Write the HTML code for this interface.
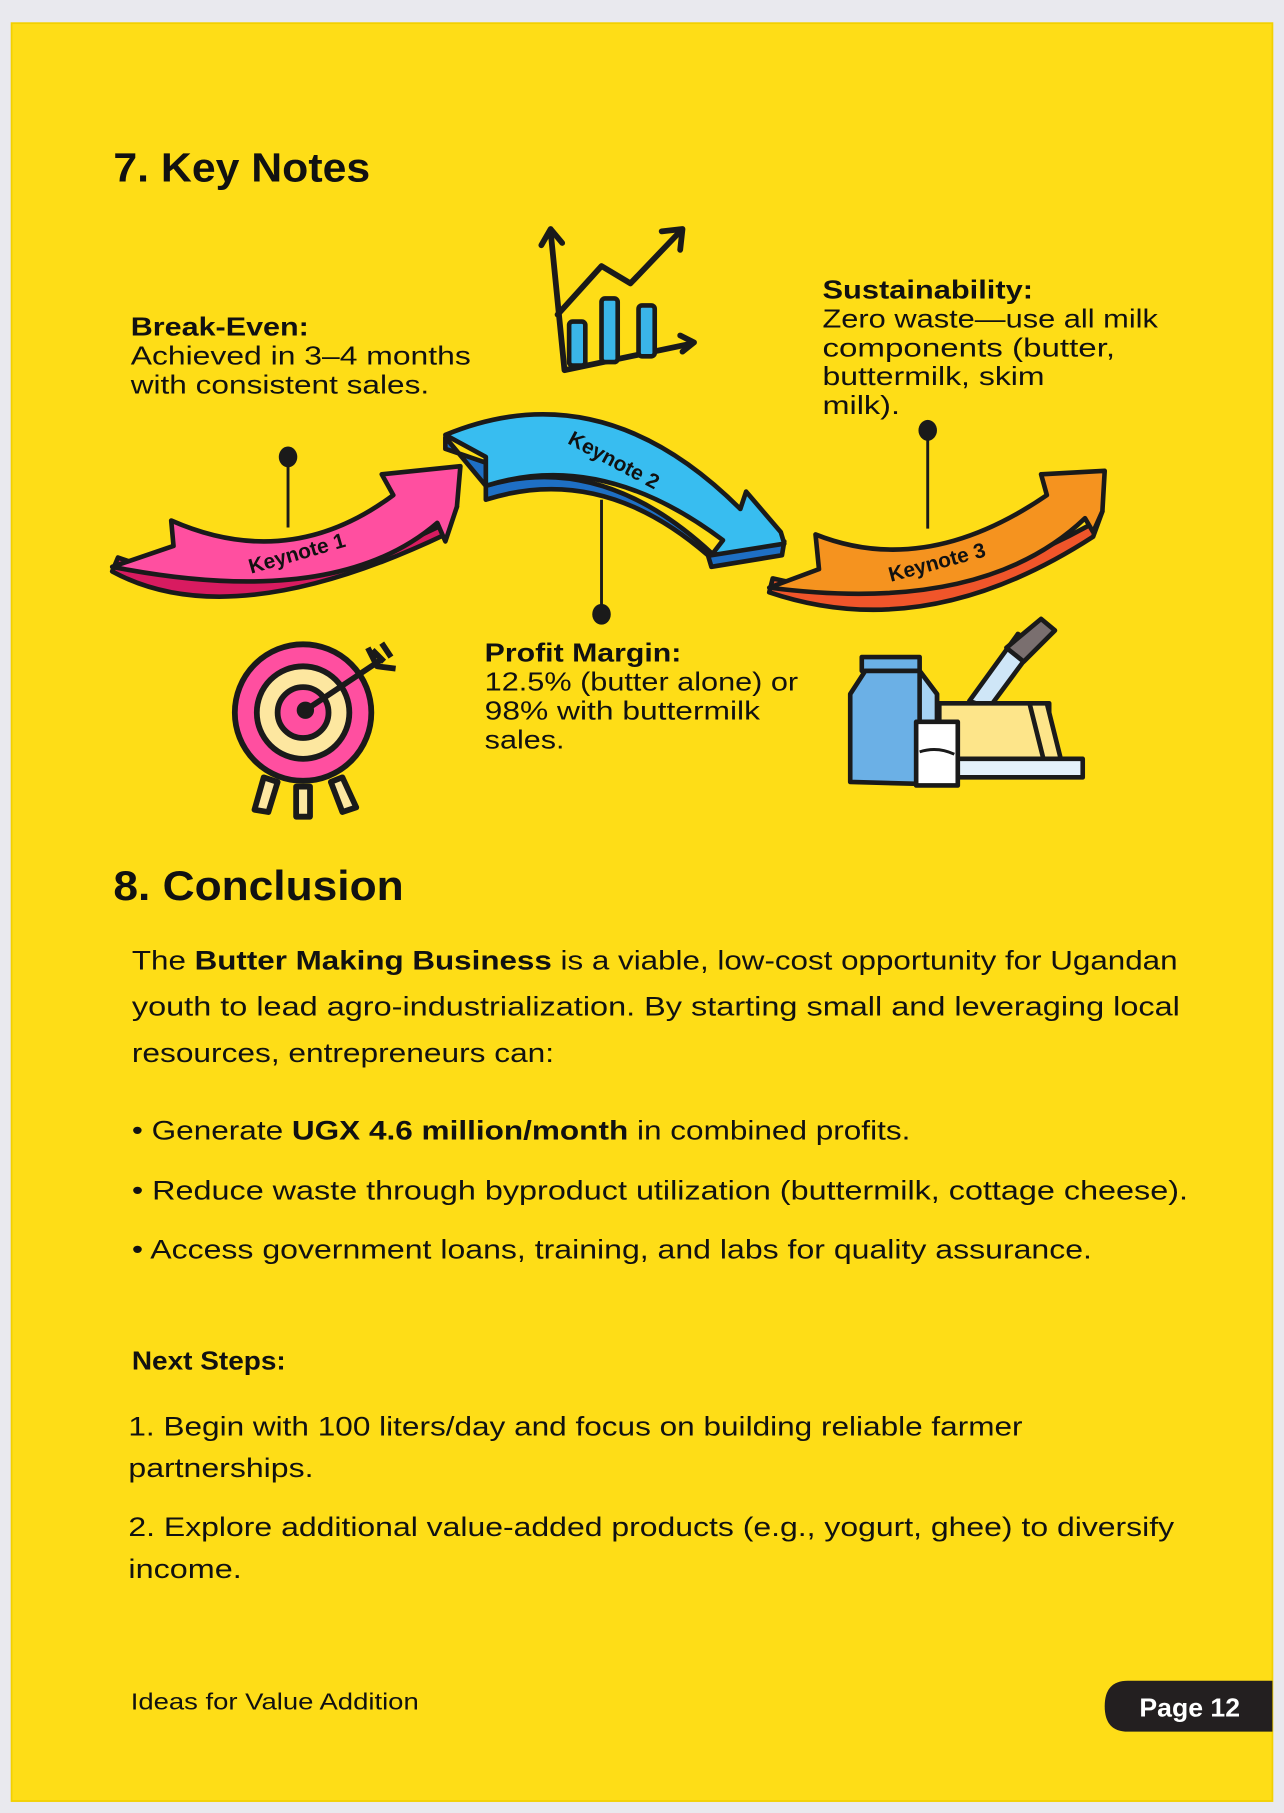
<!DOCTYPE html>
<html><head><meta charset="utf-8"><style>
html,body{margin:0;padding:0;background:#e9e9ee;}
svg{display:block}
text{font-family:"Liberation Sans",sans-serif;fill:#111}
</style></head><body>
<svg width="1284" height="1813" viewBox="0 0 1110 1567.3" xmlns="http://www.w3.org/2000/svg">
<rect x="0" y="0" width="1110" height="1568" fill="#e9e9ee"/>
<rect x="10" y="20" width="1090" height="1537" fill="#fedd17" stroke="#f2d000" stroke-width="1.5"/>

<text x="98" y="157" font-size="35" font-weight="bold" textLength="222" lengthAdjust="spacingAndGlyphs">7. Key Notes</text>

<!-- chart icon -->
<g fill="none" stroke="#1a1a1a" stroke-width="5" stroke-linecap="round" stroke-linejoin="round">
<path d="M476,200 L488,320 L598,297"/>
<path d="M468,212 L476,198 L486,210"/>
<path d="M588,290 L600,296 L590,304"/>
<path d="M482,272 L520,230 L545,245 L588,200"/>
<path d="M572,200 L590,198 L588,216"/>
</g>
<g stroke="#1a1a1a" stroke-width="4" fill="#3ab5e8">
<rect x="492" y="278" width="14" height="38" rx="3"/>
<rect x="520" y="258" width="14" height="55" rx="3"/>
<rect x="552" y="264" width="14" height="44" rx="3"/>
</g>

<!-- Pink arrow -->
<g stroke="#1a1a1a" stroke-width="4" stroke-linejoin="round">
<path d="M97,494 Q200,550 385,462 L395,438 L380,455 Q230,528 102,482 Z" fill="#d81b60"/>
<path d="M97,490 L150,472 L148,450 Q250,495 340,428 L330,410 L398,403 L395,438 L385,468 L378,452 Q290,528 97,490 Z" fill="#ff4fa0"/>
</g>
<text x="0" y="0" font-size="18" font-weight="bold" transform="translate(217,496) rotate(-16)">Keynote 1</text>

<!-- Blue arrow -->
<g stroke="#1a1a1a" stroke-width="4" stroke-linejoin="round">
<path d="M385,378 L385,388 L420,400 L420,432 Q520,400 612,480 L615,490 L676,480 L678,468 L615,478 Q520,390 420,420 Z" fill="#1e6fc4"/>
<path d="M385,376 Q520,320 640,440 L645,425 L675,460 L678,470 L615,480 L625,467 Q520,388 420,420 L420,395 Z" fill="#38bdf0"/>
</g>
<text x="0" y="0" font-size="18" font-weight="bold" transform="translate(490,383) rotate(28)">Keynote 2</text>

<!-- Orange arrow -->
<g stroke="#1a1a1a" stroke-width="4" stroke-linejoin="round">
<path d="M665,512 Q800,558 945,464 L953,442 L940,455 Q800,532 668,500 Z" fill="#f0552a"/>
<path d="M665,508 L708,492 L705,462 Q800,500 905,428 L900,410 L955,407 L953,442 L945,460 L938,448 Q850,532 665,508 Z" fill="#f5931f"/>
</g>
<text x="0" y="0" font-size="18" font-weight="bold" transform="translate(770,503) rotate(-15)">Keynote 3</text>

<!-- pins -->
<g stroke="#1a1a1a" stroke-width="2.5">
<line x1="249" y1="395" x2="249" y2="456"/>
<line x1="520" y1="432" x2="520" y2="530"/>
<line x1="802" y1="372" x2="802" y2="457"/>
</g>
<g fill="#1a1a1a">
<ellipse cx="249" cy="395" rx="8" ry="9"/>
<ellipse cx="520" cy="531" rx="8" ry="9"/>
<ellipse cx="802" cy="372" rx="8" ry="9"/>
</g>

<!-- Labels -->
<text x="113" y="290" font-size="22" font-weight="bold" textLength="154" lengthAdjust="spacingAndGlyphs">Break-Even:</text>
<text x="113" y="315" font-size="22" textLength="294" lengthAdjust="spacingAndGlyphs">Achieved in 3–4 months</text>
<text x="113" y="340" font-size="22" textLength="258" lengthAdjust="spacingAndGlyphs">with consistent sales.</text>

<text x="711" y="258" font-size="22" font-weight="bold" textLength="182" lengthAdjust="spacingAndGlyphs">Sustainability:</text>
<text x="711" y="283" font-size="22" textLength="290" lengthAdjust="spacingAndGlyphs">Zero waste—use all milk</text>
<text x="711" y="308" font-size="22" textLength="253" lengthAdjust="spacingAndGlyphs">components (butter,</text>
<text x="711" y="333" font-size="22" textLength="192" lengthAdjust="spacingAndGlyphs">buttermilk, skim</text>
<text x="711" y="358" font-size="22" textLength="67" lengthAdjust="spacingAndGlyphs">milk).</text>

<text x="419" y="572" font-size="22" font-weight="bold" textLength="170" lengthAdjust="spacingAndGlyphs">Profit Margin:</text>
<text x="419" y="597" font-size="22" textLength="271" lengthAdjust="spacingAndGlyphs">12.5% (butter alone) or</text>
<text x="419" y="622" font-size="22" textLength="238" lengthAdjust="spacingAndGlyphs">98% with buttermilk</text>
<text x="419" y="647" font-size="22" textLength="69" lengthAdjust="spacingAndGlyphs">sales.</text>

<!-- Target -->
<g stroke="#1a1a1a" stroke-width="5" stroke-linejoin="round">
<path d="M228,672 L220,700 L232,702 L240,676 Z" fill="#fde7a0"/>
<path d="M256,680 L256,706 L268,706 L268,680 Z" fill="#fde7a0"/>
<path d="M286,676 L296,702 L308,698 L296,672 Z" fill="#fde7a0"/>
<circle cx="262" cy="616" r="59" fill="#ff4fa0"/>
<circle cx="262" cy="616" r="40" fill="#fde7a0"/>
<circle cx="262" cy="616" r="22" fill="#ff4fa0"/>
<circle cx="264" cy="614" r="5" fill="#1a1a1a"/>
<line x1="264" y1="614" x2="330" y2="570"/>
<path d="M318,560 L326,576 L342,578 M322,562 L332,572 M330,556 L338,568" fill="none"/>
</g>

<!-- Milk & butter -->
<g stroke="#1a1a1a" stroke-width="4" stroke-linejoin="round">
<path d="M838,606 L880,548 L895,558 L855,612 Z" fill="#cfe6f7"/>
<path d="M870,560 L900,535 L912,545 L885,572 Z" fill="#7a6f6f"/>
<rect x="812" y="608" width="95" height="52" fill="#fde58a"/>
<path d="M890,608 L905,608 L918,660 L903,660 Z" fill="#fde58a"/>
<path d="M800,656 L936,656 L936,672 L800,672 Z" fill="#e4f1fb"/>
<path d="M745,568 L795,568 L795,580 L745,580 Z" fill="#6bb0e6"/>
<path d="M735,600 L748,580 L795,580 L810,600 L810,678 L735,676 Z" fill="#6bb0e6"/>
<path d="M795,580 L810,600 L810,678 L795,678 Z" fill="#a7d3f3"/>
<rect x="792" y="624" width="36" height="55" fill="#ffffff"/>
<path d="M795,650 Q810,645 825,652" fill="none" stroke-width="2.5"/>
</g>

<text x="98" y="778" font-size="36" font-weight="bold" textLength="251" lengthAdjust="spacingAndGlyphs">8. Conclusion</text>

<text x="114" y="838" font-size="23" textLength="904" lengthAdjust="spacingAndGlyphs">The <tspan font-weight="bold">Butter Making Business</tspan> is a viable, low-cost opportunity for Ugandan</text>
<text x="114" y="878" font-size="23" textLength="906" lengthAdjust="spacingAndGlyphs">youth to lead agro-industrialization. By starting small and leveraging local</text>
<text x="114" y="918" font-size="23" textLength="365" lengthAdjust="spacingAndGlyphs">resources, entrepreneurs can:</text>

<text x="114" y="985" font-size="23" textLength="673" lengthAdjust="spacingAndGlyphs">• Generate <tspan font-weight="bold">UGX 4.6 million/month</tspan> in combined profits.</text>
<text x="114" y="1037" font-size="23" textLength="913" lengthAdjust="spacingAndGlyphs">• Reduce waste through byproduct utilization (buttermilk, cottage cheese).</text>
<text x="114" y="1088" font-size="23" textLength="830" lengthAdjust="spacingAndGlyphs">• Access government loans, training, and labs for quality assurance.</text>

<text x="114" y="1184" font-size="22" font-weight="bold" textLength="133" lengthAdjust="spacingAndGlyphs">Next Steps:</text>
<text x="111" y="1241" font-size="23" textLength="773" lengthAdjust="spacingAndGlyphs">1. Begin with 100 liters/day and focus on building reliable farmer</text>
<text x="111" y="1277" font-size="23" textLength="160" lengthAdjust="spacingAndGlyphs">partnerships.</text>
<text x="111" y="1328" font-size="23" textLength="904" lengthAdjust="spacingAndGlyphs">2. Explore additional value-added products (e.g., yogurt, ghee) to diversify</text>
<text x="111" y="1364" font-size="23" textLength="98" lengthAdjust="spacingAndGlyphs">income.</text>

<text x="113" y="1478" font-size="20" textLength="249" lengthAdjust="spacingAndGlyphs">Ideas for Value Addition</text>
<path d="M1100,1453 L975,1453 Q955,1453 955,1475 Q955,1497 975,1497 L1100,1497 Z" fill="#231f20"/>
<text x="985" y="1484" font-size="22" font-weight="bold" style="fill:#fff" textLength="87" lengthAdjust="spacingAndGlyphs">Page 12</text>
</svg>
</body></html>
